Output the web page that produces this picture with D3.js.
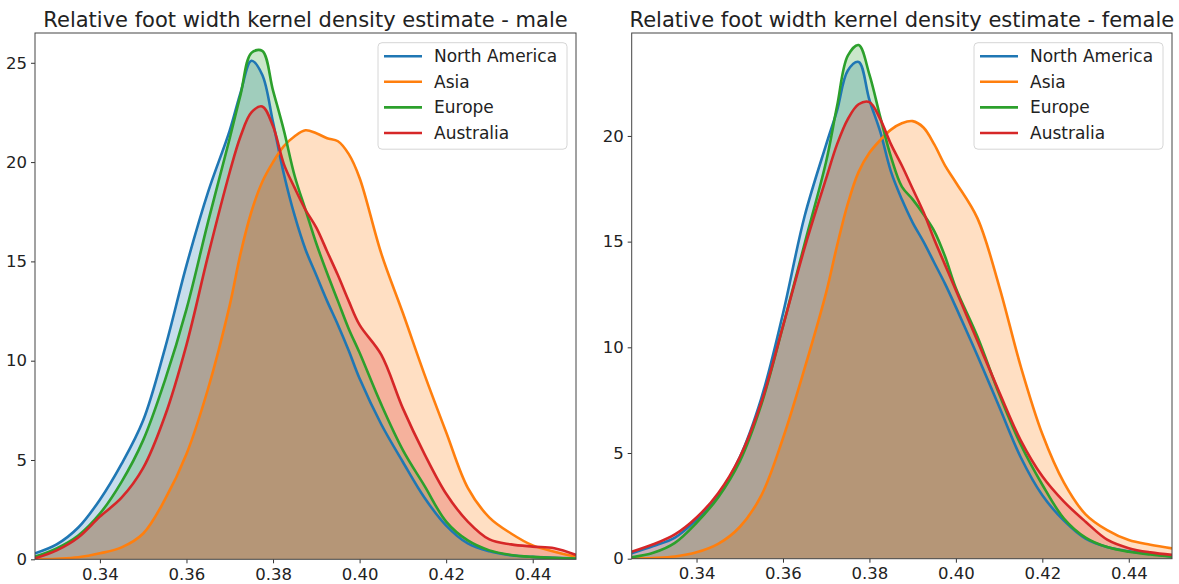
<!DOCTYPE html>
<html>
<head>
<meta charset="utf-8">
<script src="https://cdn.jsdelivr.net/npm/d3@7"></script>
<style>
  body { margin: 0; background: #fff; }
  svg text { font-family: "DejaVu Sans", sans-serif; fill: #222; }
</style>
</head>
<body>
<script>
// kde curves, one value per footWidth point
const regions = ["North America", "Asia", "Europe", "Australia"];
const colors = ["#1f77b4", "#ff7f0e", "#2ca02c", "#d62728"];

const footWidth = [0.325, 0.33, 0.335, 0.34, 0.345, 0.35, 0.355, 0.36, 0.365, 0.37,
  0.3725, 0.375, 0.3775, 0.38, 0.3825, 0.385, 0.3875, 0.39, 0.3925, 0.395, 0.3975,
  0.40, 0.405, 0.41, 0.415, 0.42, 0.425, 0.43, 0.435, 0.44, 0.445, 0.45];

const maleNorthAmerica = [0.3, 0.75, 1.6, 3.0, 4.8, 7.0, 10.6, 14.8, 18.5, 21.6,
  23.5, 25.1, 24.4, 22.0, 19.4, 17.3, 15.6, 14.3, 13.0, 11.8, 10.5,
  9.1, 6.8, 4.9, 3.1, 1.7, 0.8, 0.4, 0.2, 0.12, 0.08, 0.05];
const maleAsia = [0, 0.03, 0.1, 0.3, 0.6, 1.3, 3.0, 5.3, 8.6, 12.8,
  15.4, 17.5, 19.0, 20.0, 20.8, 21.3, 21.6, 21.45, 21.2, 21.05, 20.4,
  19.2, 15.4, 12.4, 9.3, 6.4, 3.6, 2.1, 1.3, 0.7, 0.38, 0.13];
const maleEurope = [0.13, 0.55, 1.2, 2.3, 3.9, 6.0, 9.0, 12.6, 17.0, 21.2,
  23.4, 25.5, 25.6, 23.6, 21.6, 19.3, 17.6, 15.9, 14.4, 13.0, 11.6,
  10.4, 7.8, 5.5, 3.7, 1.9, 0.95, 0.45, 0.22, 0.12, 0.07, 0.04];
const maleAustralia = [0.05, 0.45, 1.1, 2.15, 3.1, 4.6, 7.2, 10.8, 15.3, 19.5,
  21.3, 22.5, 22.8, 21.8, 19.9, 18.7, 17.6, 16.7, 15.5, 14.3, 13.0,
  11.8, 10.3, 7.6, 5.3, 3.3, 1.9, 1.0, 0.75, 0.64, 0.56, 0.22];

const femaleNorthAmerica = [0.26, 0.6, 1.0, 1.85, 3.0, 4.8, 7.6, 11.6, 16.2, 19.6,
  21.2, 23.1, 23.5, 21.7, 20.2, 18.3, 17.0, 15.9, 15.0, 14.0, 13.0,
  11.9, 9.6, 7.2, 4.8, 3.0, 1.8, 0.95, 0.55, 0.35, 0.24, 0.1];
const femaleAsia = [0, 0.03, 0.1, 0.3, 0.7, 1.5, 3.0, 5.7, 9.0, 12.6,
  14.8, 16.8, 18.3, 19.2, 19.8, 20.3, 20.6, 20.7, 20.4, 19.6, 18.6,
  17.8, 16.1, 12.9, 9.1, 5.9, 3.6, 2.1, 1.35, 0.88, 0.66, 0.49];
const femaleEurope = [0.07, 0.28, 0.75, 1.7, 2.9, 4.6, 7.3, 11.0, 14.9, 18.8,
  21.4, 23.8, 24.3, 22.9, 20.9, 19.0, 17.6, 17.0, 16.3, 15.5, 14.3,
  12.8, 10.5, 7.8, 5.4, 3.5, 1.9, 1.0, 0.55, 0.33, 0.2, 0.1];
const femaleAustralia = [0.33, 0.68, 1.15, 1.95, 3.1, 4.8, 7.4, 11.0, 14.7, 18.0,
  19.6, 20.8, 21.5, 21.6, 20.8, 19.6, 18.6, 17.5, 16.4, 15.1, 13.9,
  12.7, 10.3, 7.9, 5.6, 3.9, 2.7, 1.75, 0.9, 0.5, 0.3, 0.18];

const xTicks = [0.34, 0.36, 0.38, 0.40, 0.42, 0.44];
const maleYTicks = [0, 5, 10, 15, 20, 25];
const femaleYTicks = [0, 5, 10, 15, 20];

const panels = [
  { title: "Relative foot width kernel density estimate - male",
    series: [maleNorthAmerica, maleAsia, maleEurope, maleAustralia],
    yTicks: maleYTicks, yMax: 26.5, left: 35, right: 576, top: 33, bottom: 559.3 },
  { title: "Relative foot width kernel density estimate - female",
    series: [femaleNorthAmerica, femaleAsia, femaleEurope, femaleAustralia],
    yTicks: femaleYTicks, yMax: 24.87, left: 631.7, right: 1172, top: 33, bottom: 558.7 }
];

const svg = d3.select("body").append("svg")
  .attr("width", 1179)
  .attr("height", 584);

panels.forEach(drawPanel);

function drawPanel(p, idx) {
  const x = d3.scaleLinear().domain([0.325, 0.45]).range([p.left, p.right]);
  const y = d3.scaleLinear().domain([0, p.yMax]).range([p.bottom, p.top]);

  const clipId = "clip" + idx;
  svg.append("clipPath").attr("id", clipId)
    .append("rect")
    .attr("x", p.left).attr("y", p.top)
    .attr("width", p.right - p.left).attr("height", p.bottom - p.top);

  const g = svg.append("g").attr("clip-path", `url(#${clipId})`);

  const area = d3.area()
    .x((d, i) => x(footWidth[i]))
    .y0(y(0))
    .y1(d => y(d))
    .curve(d3.curveCatmullRom.alpha(0.5));
  const line = d3.line()
    .x((d, i) => x(footWidth[i]))
    .y(d => y(d))
    .curve(d3.curveCatmullRom.alpha(0.5));

  // shaded areas first, lines on top
  p.series.forEach((s, i) => {
    g.append("path").datum(s)
      .attr("d", area)
      .attr("fill", colors[i])
      .attr("fill-opacity", 0.25);
  });
  p.series.forEach((s, i) => {
    g.append("path").datum(s)
      .attr("d", line)
      .attr("fill", "none")
      .attr("stroke", colors[i])
      .attr("stroke-width", 2.6)
      .attr("stroke-linejoin", "round");
  });

  // axes
  const xAxis = svg.append("g")
    .attr("transform", `translate(0,${p.bottom})`)
    .call(d3.axisBottom(x).tickValues(xTicks).tickFormat(d3.format(".2f"))
      .tickSize(4).tickPadding(5));
  const yAxis = svg.append("g")
    .attr("transform", `translate(${p.left},0)`)
    .call(d3.axisLeft(y).tickValues(p.yTicks).tickFormat(d3.format("d"))
      .tickSize(4).tickPadding(4));
  [xAxis, yAxis].forEach(a => {
    a.select(".domain").remove();
    a.attr("font-size", null).attr("font-family", null);
    a.selectAll("line").attr("stroke", "#333");
    a.selectAll("text").style("font-size", "16.5px").attr("fill", "#222");
  });

  // frame
  svg.append("rect")
    .attr("x", p.left).attr("y", p.top)
    .attr("width", p.right - p.left).attr("height", p.bottom - p.top)
    .attr("fill", "none")
    .attr("stroke", "#444")
    .attr("stroke-width", 1);

  // title
  svg.append("text")
    .attr("x", (p.left + p.right) / 2)
    .attr("y", 26.5)
    .attr("text-anchor", "middle")
    .style("font-size", "21px")
    .text(p.title);

  // legend
  const lx = p.right - 198, ly = p.top + 9.7;
  const legend = svg.append("g").attr("transform", `translate(${lx},${ly})`);
  legend.append("rect")
    .attr("width", 189).attr("height", 106.5)
    .attr("rx", 4)
    .attr("fill", "#fff").attr("fill-opacity", 0.8)
    .attr("stroke", "#d6d6d6");
  const items = legend.selectAll("g.item")
    .data(regions)
    .enter().append("g")
    .attr("class", "item")
    .attr("transform", (d, i) => `translate(0,${13.5 + i * 25.6})`);
  items.append("line")
    .attr("x1", 6).attr("x2", 44)
    .attr("stroke", (d, i) => colors[i])
    .attr("stroke-width", 2.6);
  items.append("text")
    .attr("x", 56)
    .attr("dy", "0.35em")
    .style("font-size", "17px")
    .text(d => d);
}
</script>
</body>
</html>
